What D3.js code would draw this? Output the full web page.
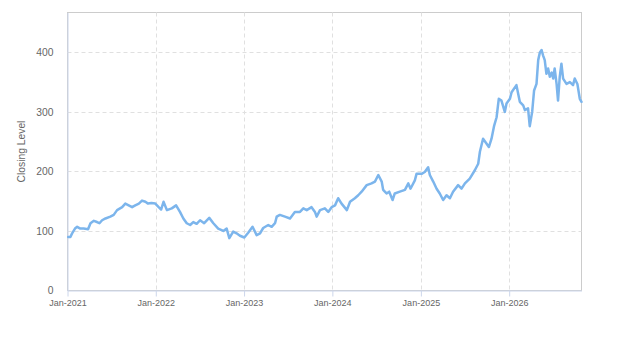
<!DOCTYPE html>
<html>
<head>
<meta charset="utf-8">
<script src="https://cdn.jsdelivr.net/npm/d3@7"></script>
<style>
  html, body { margin: 0; padding: 0; background: #fff; }
  svg { display: block; font-family: "Liberation Sans", Arial, sans-serif; }
</style>
</head>
<body>
<svg id="chart" width="623" height="350"></svg>
<script>
// ---- data ----
const dates = [
  "2021-01-04","2021-01-13","2021-01-20","2021-02-01","2021-02-10","2021-02-23","2021-03-09","2021-03-27",
  "2021-04-06","2021-04-20","2021-05-03","2021-05-13","2021-05-24","2021-06-07","2021-06-27","2021-07-11",
  "2021-07-25","2021-08-15","2021-08-28","2021-09-11","2021-09-25","2021-10-08","2021-10-23","2021-11-05",
  "2021-11-19","2021-11-30","2021-12-14","2021-12-30","2022-01-13","2022-01-23","2022-02-02","2022-02-16",
  "2022-03-08","2022-03-26","2022-04-11","2022-04-25","2022-05-09","2022-05-23","2022-06-05","2022-06-19",
  "2022-07-03","2022-07-20","2022-08-10","2022-08-27","2022-09-16","2022-10-07","2022-10-21","2022-11-01",
  "2022-11-17","2022-12-01","2022-12-15","2023-01-02","2023-01-18","2023-02-05","2023-02-22","2023-03-08",
  "2023-03-21","2023-04-11","2023-04-25","2023-05-09","2023-05-16","2023-05-29","2023-06-19","2023-07-10",
  "2023-07-30","2023-08-20","2023-09-03","2023-09-17","2023-10-07","2023-10-21","2023-10-28","2023-11-11",
  "2023-12-01","2023-12-15","2023-12-29","2024-01-12","2024-01-25","2024-02-08","2024-03-01","2024-03-14",
  "2024-04-03","2024-04-17","2024-05-01","2024-05-22","2024-06-11","2024-06-25","2024-07-09","2024-07-23",
  "2024-07-29","2024-08-12","2024-08-23","2024-09-06","2024-09-15","2024-10-06","2024-10-27","2024-11-10",
  "2024-11-19","2024-12-07","2024-12-14","2025-01-04","2025-01-17","2025-01-31","2025-02-07","2025-02-21",
  "2025-03-07","2025-03-20","2025-04-03","2025-04-17","2025-05-01","2025-05-14","2025-06-04","2025-06-18",
  "2025-07-02","2025-07-22","2025-08-12","2025-08-26","2025-09-02","2025-09-15","2025-09-29","2025-10-09",
  "2025-10-20","2025-10-31","2025-11-10","2025-11-19","2025-11-30","2025-12-14","2025-12-21","2026-01-04",
  "2026-01-11","2026-01-31","2026-02-07","2026-02-14","2026-02-28","2026-03-07","2026-03-20","2026-03-27",
  "2026-04-06","2026-04-14","2026-04-24","2026-05-01","2026-05-08","2026-05-15","2026-05-21","2026-05-28",
  "2026-06-04","2026-06-11","2026-06-18","2026-06-26","2026-07-02","2026-07-08","2026-07-16","2026-07-22",
  "2026-07-29","2026-08-05","2026-08-12","2026-08-26","2026-09-09","2026-09-22","2026-09-29","2026-10-10",
  "2026-10-20","2026-10-27"
];
const closes = [
  90, 90, 96, 104, 107, 104, 104, 103,
  113, 117, 115, 113, 118, 121, 124, 127,
  135, 140, 146, 143, 140, 143, 146, 151,
  149, 146, 147, 146, 140, 136, 149, 135,
  138, 143, 132, 121, 113, 110, 115, 112,
  118, 113, 122, 113, 104, 100, 104, 88,
  99, 96, 92, 89, 97, 107, 93, 96,
  105, 110, 107, 113, 124, 127, 124, 121,
  132, 132, 138, 135, 140, 132, 124, 135,
  138, 132, 140, 143, 155, 146, 135, 149,
  155, 160, 166, 177, 180, 183, 194, 183,
  169, 163, 166, 152, 163, 166, 169, 180,
  171, 185, 196, 196, 199, 207, 194, 183,
  171, 163, 152, 160, 155, 166, 177, 171,
  180, 188, 202, 213, 233, 255, 247, 241,
  255, 277, 291, 322, 319, 300, 314, 322,
  333, 345, 331, 317, 311, 303, 306, 276,
  300, 336, 347, 387, 400, 404, 395, 387,
  364, 373, 359, 366, 356, 373, 347, 319,
  359, 381, 356, 347, 350, 345, 356, 347,
  322, 317
];
const xTickDates = ["2021-01-01","2022-01-01","2023-01-01","2024-01-01","2025-01-01","2026-01-01"];
const yTickValues = [0, 100, 200, 300, 400];
const yTitle = "Closing Level";
const xStart = "2021-01-01", xEnd = "2026-10-27";
const yMax = 467;

// ---- drawing ----
const parse = d3.timeParse("%Y-%m-%d");
const fmt = d3.timeFormat("%b-%Y");
const series = dates.map((d, i) => ({ date: parse(d), value: closes[i] }));

const svg = d3.select("#chart");
const m = { left: 67.5, top: 12.5, right: 581.5, bottom: 290.5 };

const x = d3.scaleTime().domain([parse(xStart), parse(xEnd)]).range([m.left, m.right]);
const y = d3.scaleLinear().domain([0, yMax]).range([m.bottom, m.top]);

// plot border
svg.append("rect")
  .attr("x", m.left).attr("y", m.top)
  .attr("width", m.right - m.left).attr("height", m.bottom - m.top)
  .attr("fill", "none").attr("stroke", "#cccccc").attr("stroke-width", 1);

// horizontal grid
svg.append("g").selectAll("line").data(yTickValues.filter(v => v > 0)).join("line")
  .attr("x1", m.left).attr("x2", m.right)
  .attr("y1", d => Math.round(y(d)) + 0.5).attr("y2", d => Math.round(y(d)) + 0.5)
  .attr("stroke", "#e0e0e0").attr("stroke-dasharray", "4,3");

// vertical grid
const xt = xTickDates.map(parse);
svg.append("g").selectAll("line").data(xt.slice(1)).join("line")
  .attr("x1", d => Math.round(x(d)) + 0.5).attr("x2", d => Math.round(x(d)) + 0.5)
  .attr("y1", m.top).attr("y2", m.bottom)
  .attr("stroke", "#e0e0e0").attr("stroke-dasharray", "4,3");

// x axis
const xAxis = d3.axisBottom(x).tickValues(xt).tickFormat(fmt)
  .tickSizeInner(6).tickSizeOuter(0).tickPadding(3);
const gx = svg.append("g").attr("transform", `translate(0,${m.bottom})`).call(xAxis);
gx.select(".domain").attr("stroke", "#ccd6eb");
gx.selectAll(".tick line").attr("stroke", "#ccd6eb");
gx.selectAll(".tick text").attr("fill", "#666666").attr("font-size", "9px")
  .attr("font-family", "Liberation Sans, Arial, sans-serif");

// y axis
const yAxis = d3.axisLeft(y).tickValues(yTickValues).tickSize(0).tickPadding(14);
const gy = svg.append("g").attr("transform", `translate(${m.left},0)`).call(yAxis);
gy.select(".domain").attr("stroke", "#ccd6eb");
gy.selectAll(".tick text").attr("fill", "#666666").attr("font-size", "10.3px")
  .attr("font-family", "Liberation Sans, Arial, sans-serif");

// y title
svg.append("text")
  .attr("transform", `translate(25,${(m.top + m.bottom) / 2}) rotate(-90)`)
  .attr("text-anchor", "middle")
  .attr("fill", "#666666").attr("font-size", "10.3px")
  .text(yTitle);

// line
const line = d3.line().x(d => x(d.date)).y(d => y(d.value)).curve(d3.curveLinear);
svg.append("path").datum(series)
  .attr("d", line)
  .attr("fill", "none")
  .attr("stroke", "#7cb5ec")
  .attr("stroke-width", 2.5)
  .attr("stroke-linejoin", "round")
  .attr("stroke-linecap", "round");
</script>
</body>
</html>
